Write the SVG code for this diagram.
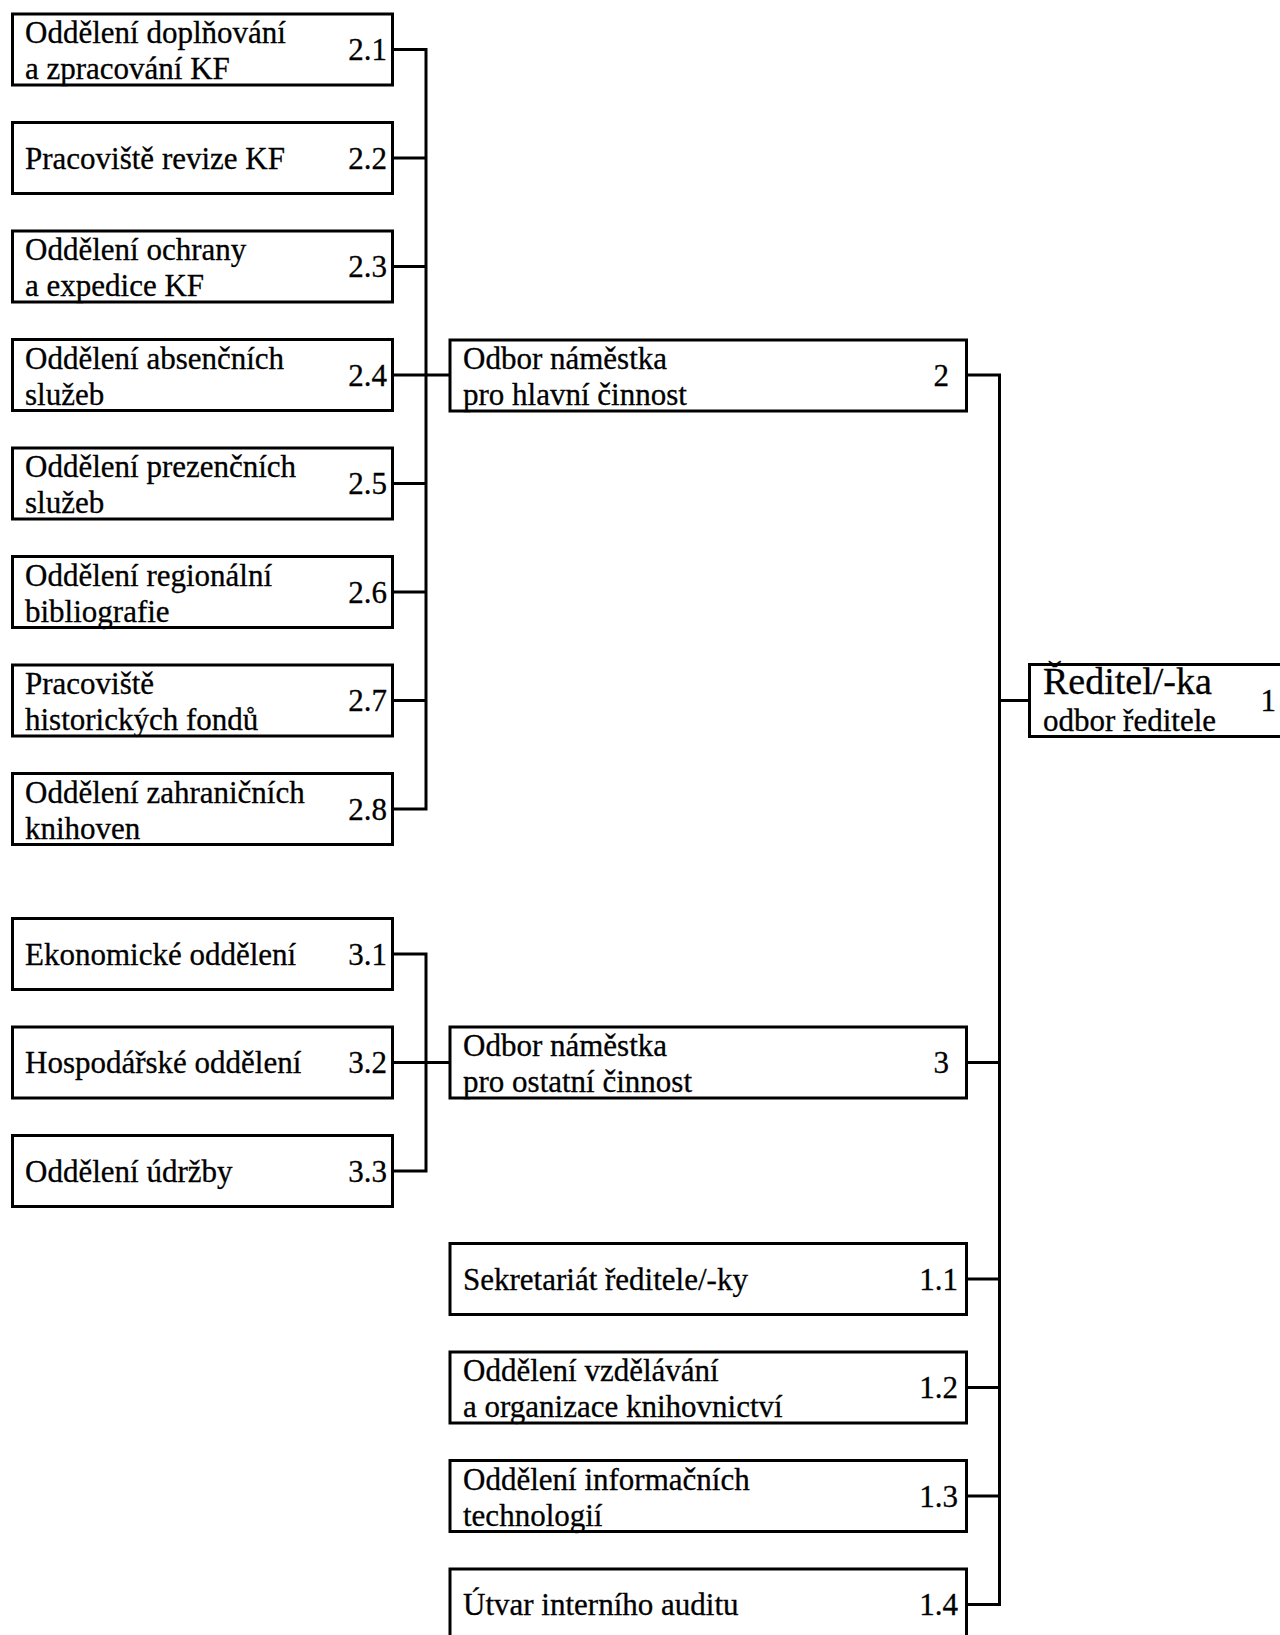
<svg xmlns="http://www.w3.org/2000/svg" width="1280" height="1635" viewBox="0 0 1280 1635">
<style>
.b{fill:#fff;stroke:#000;stroke-width:3}
.c{fill:none;stroke:#000;stroke-width:3;stroke-linejoin:miter}
.t text{font-size:31px;fill:#000;stroke:#000;stroke-width:0.3}
.t .n{text-anchor:end}
.t .big{font-size:38px}
</style>
<rect width="1280" height="1635" fill="#fff"/>
<g id="connectors">
<path class="c" d="M392.5 49.5H426V809H392.5M392.5 158H426M392.5 266.5H426M392.5 375H450M392.5 483.5H426M392.5 592H426M392.5 700.5H426"/>
<path class="c" d="M392.5 954H426V1171H392.5M392.5 1062.5H450"/>
<path class="c" d="M966.5 375H999.5V1604.5H966.5M966.5 1062.5H999.5M966.5 1279H999.5M966.5 1387.5H999.5M966.5 1496H999.5M999.5 700.5H1029.5"/>
</g>
<g class="t" font-family="'Liberation Serif', 'Times New Roman', 'DejaVu Serif', serif">
<g id="n2_1"><rect class="b" x="12.5" y="14" width="380" height="71"/><text x="25" y="43">Oddělení doplňování</text><text x="25" y="79">a zpracování KF</text><text class="n" x="387" y="59.5">2.1</text></g>
<g id="n2_2"><rect class="b" x="12.5" y="122.5" width="380" height="71"/><text x="25" y="168.5">Pracoviště revize KF</text><text class="n" x="387" y="168.5">2.2</text></g>
<g id="n2_3"><rect class="b" x="12.5" y="231" width="380" height="71"/><text x="25" y="260">Oddělení ochrany</text><text x="25" y="296">a expedice KF</text><text class="n" x="387" y="277">2.3</text></g>
<g id="n2_4"><rect class="b" x="12.5" y="339.5" width="380" height="71"/><text x="25" y="368.5">Oddělení absenčních</text><text x="25" y="404.5">služeb</text><text class="n" x="387" y="385.5">2.4</text></g>
<g id="n2_5"><rect class="b" x="12.5" y="448" width="380" height="71"/><text x="25" y="477">Oddělení prezenčních</text><text x="25" y="513">služeb</text><text class="n" x="387" y="494">2.5</text></g>
<g id="n2_6"><rect class="b" x="12.5" y="556.5" width="380" height="71"/><text x="25" y="585.5">Oddělení regionální</text><text x="25" y="621.5">bibliografie</text><text class="n" x="387" y="602.5">2.6</text></g>
<g id="n2_7"><rect class="b" x="12.5" y="665" width="380" height="71"/><text x="25" y="694">Pracoviště</text><text x="25" y="730">historických fondů</text><text class="n" x="387" y="711">2.7</text></g>
<g id="n2_8"><rect class="b" x="12.5" y="773.5" width="380" height="71"/><text x="25" y="802.5">Oddělení zahraničních</text><text x="25" y="838.5">knihoven</text><text class="n" x="387" y="819.5">2.8</text></g>
<g id="n2"><rect class="b" x="450" y="340" width="516.5" height="71"/><text x="463" y="369">Odbor náměstka</text><text x="463" y="405">pro hlavní činnost</text><text class="n" x="949" y="386">2</text></g>
<g id="n3_1"><rect class="b" x="12.5" y="918.5" width="380" height="71"/><text x="25" y="964.5">Ekonomické oddělení</text><text class="n" x="387" y="964.5">3.1</text></g>
<g id="n3_2"><rect class="b" x="12.5" y="1027" width="380" height="71"/><text x="25" y="1073">Hospodářské oddělení</text><text class="n" x="387" y="1073">3.2</text></g>
<g id="n3_3"><rect class="b" x="12.5" y="1135.5" width="380" height="71"/><text x="25" y="1181.5">Oddělení údržby</text><text class="n" x="387" y="1181.5">3.3</text></g>
<g id="n3"><rect class="b" x="450" y="1027" width="516.5" height="71"/><text x="463" y="1056">Odbor náměstka</text><text x="463" y="1092">pro ostatní činnost</text><text class="n" x="949" y="1073">3</text></g>
<g id="n1_1"><rect class="b" x="450" y="1243.5" width="516.5" height="71"/><text x="463" y="1289.5">Sekretariát ředitele/-ky</text><text class="n" x="958" y="1289.5">1.1</text></g>
<g id="n1_2"><rect class="b" x="450" y="1352" width="516.5" height="71"/><text x="463" y="1381">Oddělení vzdělávání</text><text x="463" y="1417">a organizace knihovnictví</text><text class="n" x="958" y="1398">1.2</text></g>
<g id="n1_3"><rect class="b" x="450" y="1460.5" width="516.5" height="71"/><text x="463" y="1489.5">Oddělení informačních</text><text x="463" y="1525.5">technologií</text><text class="n" x="958" y="1506.5">1.3</text></g>
<g id="n1_4"><rect class="b" x="450" y="1569" width="516.5" height="71"/><text x="463" y="1615">Útvar interního auditu</text><text class="n" x="958" y="1615">1.4</text></g>
<g id="n1"><rect class="b" x="1029.5" y="664.5" width="300" height="72"/><text class="big" x="1043" y="694">Ředitel/-ka</text><text x="1043" y="731">odbor ředitele</text><text class="n" x="1276" y="711">1</text></g>
</g>
</svg>
